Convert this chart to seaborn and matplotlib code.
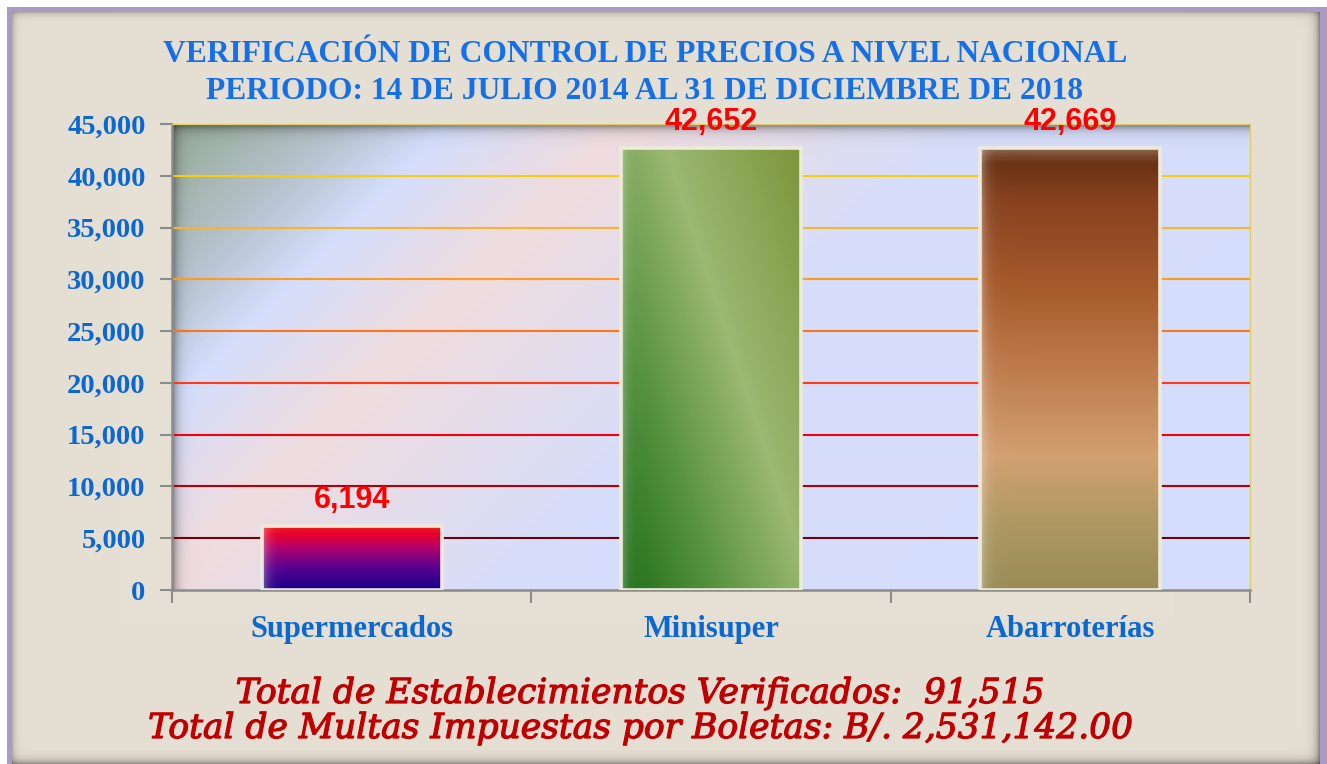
import numpy as np
import pandas as pd
import matplotlib
matplotlib.use('Agg')
import matplotlib.pyplot as plt
import matplotlib.patheffects as pe
import seaborn as sns
from matplotlib.colors import LinearSegmentedColormap, to_rgb

# datos del grafico
categorias = ['Supermercados', 'Minisuper', 'Abarroterías']
verificaciones = [6194, 42652, 42669]
y_ticks = [0, 5000, 10000, 15000, 20000, 25000, 30000, 35000, 40000, 45000]
colores_grid = [None, '#6E0010', '#B00008', '#F00010', '#FF3A14', '#FF7418',
                '#FF9A24', '#F8B430', '#F8CC10', None]

titulo_1 = 'VERIFICACIÓN DE CONTROL DE PRECIOS A NIVEL NACIONAL'
titulo_2 = 'PERIODO: 14 DE JULIO 2014 AL 31 DE DICIEMBRE DE 2018'
linea_total_1 = 'Total de Establecimientos Verificados:  91,515'
linea_total_2 = 'Total de Multas Impuestas por Boletas: B/. 2,531,142.00'

# degradados de cada barra (abajo -> arriba)
grad_super = [(0.0, '#180088'), (0.35, '#5A0090'), (0.65, '#B0006C'),
              (0.85, '#E4002C'), (0.95, '#F01020'), (1.0, '#F0905A')]
grad_abarr = [(0.0, '#9A8C58'), (0.15, '#AE9862'), (0.3, '#D2A070'),
              (0.5, '#BE7C4C'), (0.7, '#A5582A'), (0.88, '#884220'),
              (0.97, '#6A3214'), (1.0, '#8A6048')]
grad_mini = [(0.0, '#1E6E18'), (0.3, '#5A9440'), (0.585, '#9CB872'), (1.0, '#7C963C')]

sns.set_style('white')
plt.rcParams['font.family'] = ['Liberation Serif', 'DejaVu Serif']
plt.rcParams['font.weight'] = 'bold'

W_PX, H_PX = 1327, 764
fig = plt.figure(figsize=(W_PX / 100, H_PX / 100), dpi=100)
fig.patch.set_facecolor('white')

# fondo del marco (beige con borde morado y sombra)
ax_bg = fig.add_axes([0, 0, 1, 1], zorder=-10)
ax_bg.axis('off')
yy, xx = np.mgrid[0:H_PX, 0:W_PX]
bg = np.ones((H_PX, W_PX, 3))
purple = np.array(to_rgb('#A99CC4'))
beige = np.array(to_rgb('#E6DFD3'))
m_p = (xx >= 7) & (yy >= 7)
bg[m_p] = purple
m_b = (xx >= 12) & (yy >= 12) & (xx < 1320)
bg[m_b] = beige
shade = np.ones((H_PX, W_PX))
shade *= 1 - 0.5 * np.exp(-np.clip(1320 - xx, 0, None) / 4.0)
shade *= 1 - 0.35 * np.exp(-np.clip(763 - yy, 0, None) / 4.0)
shade *= 1 - 0.2 * np.exp(-np.clip(xx - 12, 0, None) / 3.0)
shade *= 1 - 0.2 * np.exp(-np.clip(yy - 12, 0, None) / 3.0)
bg = bg * np.where(m_b, shade, 1)[..., None]
ax_bg.imshow(bg, extent=(0, 1, 0, 1), aspect='auto')
ax_bg.set_xlim(0, 1)
ax_bg.set_ylim(0, 1)

ax = fig.add_axes([172 / W_PX, 174 / H_PX, 1078 / W_PX, 466 / H_PX])

df = pd.DataFrame({'categoria': categorias, 'verificaciones': verificaciones})
sns.barplot(data=df, x='categoria', y='verificaciones', ax=ax, width=0.5,
            color='white', edgecolor='#EEEADB', linewidth=2.6, zorder=3)

# fondo del area de grafico, degradado diagonal
ph, pw = 466, 1078
py, px = np.mgrid[0:ph, 0:pw]
d = px + py
cmap_bg = LinearSegmentedColormap.from_list('bg', [
    (0.0, '#96AA96'), (174 / 1544, '#B8C4D0'), (274 / 1544, '#D4DEFC'),
    (450 / 1544, '#F0DCDE'), (800 / 1544, '#D6DEFA'), (1.0, '#D4DEFC')])
area = cmap_bg(d / 1544.0)[..., :3]
sombra = (1 - 0.5 * np.exp(-py / 5.0)) * (1 - 0.45 * np.exp(-px / 5.0))
area = area * sombra[..., None]
ax.imshow(area, extent=(-0.5, 2.5, 0, 45000), aspect='auto', zorder=0, origin='upper')

# lineas de cuadricula de colores
for val, col in zip(y_ticks, colores_grid):
    if col:
        ax.axhline(val, color=col, lw=1.5, zorder=1)


def degradado_vertical(stops, n=300, m=80):
    cm = LinearSegmentedColormap.from_list('g', stops)
    t = np.linspace(0, 1, n)[:, None] * np.ones((1, m))
    return cm(t)[..., :3]


def degradado_diagonal(stops, n=300, m=120):
    cm = LinearSegmentedColormap.from_list('g', stops)
    v, u = np.mgrid[0:n, 0:m]
    bx = u / (m - 1) * 178
    by = (1 - v / (n - 1)) * 440
    s = 333 * bx - 110 * by
    s = (s + 48400) / (59274 + 48400)
    return cm(np.clip(s, 0, 1))[..., :3]


grads = [degradado_vertical(grad_super), degradado_diagonal(grad_mini),
         degradado_vertical(grad_abarr)]

for p, g in zip(ax.patches, grads):
    m = g.shape[1]
    u = np.arange(m) / m
    brillo = 0.35 * np.exp(-u / 0.03)
    g = g + (1 - g) * brillo[None, :, None]
    x0, y0, w, h = p.get_x(), p.get_y(), p.get_width(), p.get_height()
    ax.imshow(g, extent=(x0, x0 + w, y0, y0 + h), aspect='auto',
              origin='lower', zorder=2)
    p.set_facecolor('none')

ax.bar_label(ax.containers[0], labels=[f'{v:,}' for v in verificaciones],
             padding=8, color='#FF0000', fontsize=22, fontweight='bold',
             family='Liberation Sans', zorder=5)

ax.set_xlim(-0.5, len(categorias) - 0.5)
ax.set_ylim(0, 45000)
ax.set_yticks(y_ticks)
ax.set_yticklabels([f'{v:,}' for v in y_ticks])
ax.set_xticks(range(len(categorias)))
ax.set_xticklabels(categorias)
ax.set_xticks(np.arange(len(categorias) + 1) - 0.5, minor=True)
ax.set_xlabel('')
ax.set_ylabel('')

ax.tick_params(axis='y', length=9, width=1.5, color='#8C8C8C', pad=10,
               labelsize=20.5, labelcolor='#0B68D0', left=True)
ax.tick_params(axis='x', which='major', length=0, pad=18,
               labelsize=22, labelcolor='#0B68D0')
ax.tick_params(axis='x', which='minor', length=9, width=1.5, color='#8C8C8C',
               bottom=True)

for s in ['left', 'bottom']:
    ax.spines[s].set_color('#8C8C8C')
    ax.spines[s].set_linewidth(1.8)
for s in ['top', 'right']:
    ax.spines[s].set_color('#E2CC66')
    ax.spines[s].set_linewidth(1.0)

fig.text(645 / W_PX, 1 - 62 / H_PX, titulo_1, ha='center', va='baseline',
         fontsize=22.7, color='#1570E8', fontweight='bold')
fig.text(645 / W_PX, 1 - 99 / H_PX, titulo_2, ha='center', va='baseline',
         fontsize=22.7, color='#1570E8', fontweight='bold')

trazo = [pe.withStroke(linewidth=0.9, foreground='#C00000')]
fig.text(641 / W_PX, 1 - 703 / H_PX, linea_total_1, ha='center', va='baseline',
         fontsize=24.8, color='#C00000', style='italic', fontweight='normal',
         family='DejaVu Serif', path_effects=trazo)
fig.text(642 / W_PX, 1 - 738 / H_PX, linea_total_2, ha='center', va='baseline',
         fontsize=24.8, color='#C00000', style='italic', fontweight='normal',
         family='DejaVu Serif', path_effects=trazo)

fig.savefig('out.png', dpi=100)
